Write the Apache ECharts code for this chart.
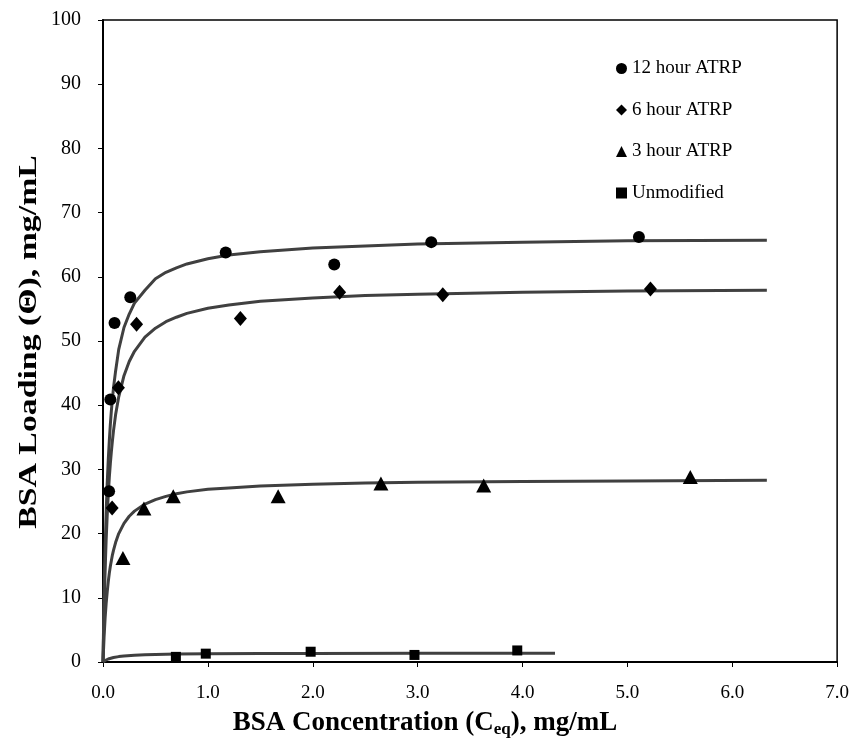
<!DOCTYPE html>
<html>
<head>
<meta charset="utf-8">
<script src="https://cdn.jsdelivr.net/npm/echarts@6/dist/echarts.min.js"></script>
<style>html,body{margin:0;padding:0;background:#fff;}#c{width:852px;height:753px;}</style>
</head>
<body>
<div id="c"></div>
<script>
// Measured points (x = Ceq mg/mL, y = loading mg/mL)
const h12X = [0.058, 0.07, 0.11, 0.26, 1.17, 2.205, 3.13, 5.11];
const h12Y = [26.6, 40.9, 52.8, 56.8, 63.8, 61.9, 65.4, 66.2];
const h6X = [0.087, 0.147, 0.32, 1.31, 2.256, 3.24, 5.22];
const h6Y = [24.0, 42.7, 52.6, 53.5, 57.6, 57.2, 58.1];
const h3X = [0.19, 0.39, 0.67, 1.67, 2.65, 3.63, 5.6];
const h3Y = [16.2, 23.9, 25.8, 25.8, 27.8, 27.5, 28.8];
const unX = [0.695, 0.98, 1.98, 2.97, 3.95];
const unY = [0.8, 1.3, 1.6, 1.1, 1.8];

// Fitted curves
const fitX = [0, 0.01, 0.02, 0.03, 0.04, 0.05, 0.06, 0.07, 0.08, 0.09, 0.1, 0.12, 0.15, 0.2, 0.25, 0.3, 0.4, 0.5, 0.6, 0.7, 0.8, 1.0, 1.2, 1.5, 2.0, 2.5, 3.0, 4.0, 5.0, 6.33];
const fit12Y = [0, 10.1, 17.6, 23.2, 27.8, 31.4, 34.4, 37.0, 39.2, 41.0, 42.7, 45.3, 48.7, 52.1, 54.2, 55.9, 57.9, 59.7, 60.7, 61.4, 62.0, 62.8, 63.4, 63.9, 64.5, 64.8, 65.1, 65.4, 65.6, 65.7];
const fit6Y = [0, 8.1, 14.2, 19.0, 22.8, 26.0, 28.7, 30.9, 32.8, 34.5, 36.0, 38.5, 41.3, 44.6, 46.8, 48.4, 50.6, 52.0, 53.0, 53.7, 54.3, 55.1, 55.6, 56.2, 56.7, 57.1, 57.3, 57.6, 57.8, 57.9];
const fit3Y = [0, 3.8, 6.8, 9.1, 10.9, 12.5, 13.8, 14.9, 15.8, 16.7, 17.4, 18.6, 20.0, 21.6, 22.7, 23.5, 24.6, 25.3, 25.8, 26.2, 26.5, 26.9, 27.1, 27.4, 27.7, 27.9, 28.0, 28.1, 28.2, 28.3];
const fitUnX = [0, 0.01, 0.02, 0.05, 0.1, 0.15, 0.2, 0.3, 0.4, 0.5, 0.7, 1.0, 1.5, 2.0, 3.0, 4.31];
const fitUnY = [0, 0.13, 0.23, 0.47, 0.7, 0.84, 0.93, 1.05, 1.12, 1.17, 1.23, 1.27, 1.31, 1.33, 1.36, 1.37];

const names = ['12 hour ATRP', '6 hour ATRP', '3 hour ATRP', 'Unmodified'];
const yTitle = 'BSA Loading (Θ), mg/mL';

function zip(a, b) { return a.map((v, i) => [v, b[i]]); }

const font = 'Liberation Serif, Times New Roman, serif';
const lineStyle = { color: '#404040', width: 3 };

function fitSeries(xs, ys) {
  return {
    type: 'line', data: zip(xs, ys), showSymbol: false, symbol: 'none',
    smooth: false, lineStyle: lineStyle, silent: true, z: 1
  };
}
function ptSeries(name, xs, ys, symbol, size) {
  return {
    name: name, type: 'scatter', data: zip(xs, ys), symbol: symbol, symbolSize: size,
    itemStyle: { color: '#000', opacity: 1 }, z: 3
  };
}

const chart = echarts.init(document.getElementById('c'));
chart.setOption({
  animation: false,
  backgroundColor: '#fff',
  grid: { left: 103, right: 14, top: 20, bottom: 91, show: true, borderColor: '#000', borderWidth: 1.5 },
  legend: {
    data: names.map((n, i) => ({ name: n, icon: ['circle', 'diamond', 'triangle', 'rect'][i], itemStyle: { color: '#000', opacity: 1 } })),
    orient: 'vertical', left: 611, top: 54, itemWidth: 11, itemHeight: 11, itemGap: 22.5,
    textStyle: { fontFamily: font, fontSize: 19, color: '#000' }
  },
  graphic: [{
    type: 'text', x: 29, y: 342, rotation: Math.PI / 2, scaleX: 1.3,
    style: { text: yTitle, fontFamily: font, fontSize: 26, fontWeight: 'bold', fill: '#000', align: 'center', verticalAlign: 'middle' }
  }],
  xAxis: {
    type: 'value', min: 0, max: 7, interval: 1,
    axisLine: { lineStyle: { color: '#000', width: 2 } },
    axisTick: { show: true, length: 5, lineStyle: { color: '#000' } },
    splitLine: { show: false },
    axisLabel: { fontFamily: font, fontSize: 19, color: '#000', margin: 22, formatter: v => v.toFixed(1) },
    name: '{a|BSA Concentration (C}{s|eq}{a|), mg/mL}',
    nameLocation: 'middle', nameGap: 47,
    nameTextStyle: {
      padding: [0, 90, 0, 0],
      rich: {
        a: { fontFamily: font, fontSize: 27, fontWeight: 'bold', color: '#000' },
        s: { fontFamily: font, fontSize: 17, fontWeight: 'bold', color: '#000', padding: [12, 0, 0, 0] }
      }
    }
  },
  yAxis: {
    type: 'value', min: 0, max: 100, interval: 10,
    axisLine: { lineStyle: { color: '#000', width: 2 } },
    axisTick: { show: true, length: 5, lineStyle: { color: '#000' } },
    splitLine: { show: false },
    axisLabel: { fontFamily: font, fontSize: 20, color: '#000', margin: 22 }
  },
  series: [
    fitSeries(fitX, fit12Y),
    fitSeries(fitX, fit6Y),
    fitSeries(fitX, fit3Y),
    fitSeries(fitUnX, fitUnY),
    ptSeries(names[0], h12X, h12Y, 'circle', 12),
    ptSeries(names[1], h6X, h6Y, 'diamond', [13, 15]),
    ptSeries(names[2], h3X, h3Y, 'triangle', [15, 14]),
    ptSeries(names[3], unX, unY, 'rect', 10)
  ]
});
</script>
</body>
</html>
